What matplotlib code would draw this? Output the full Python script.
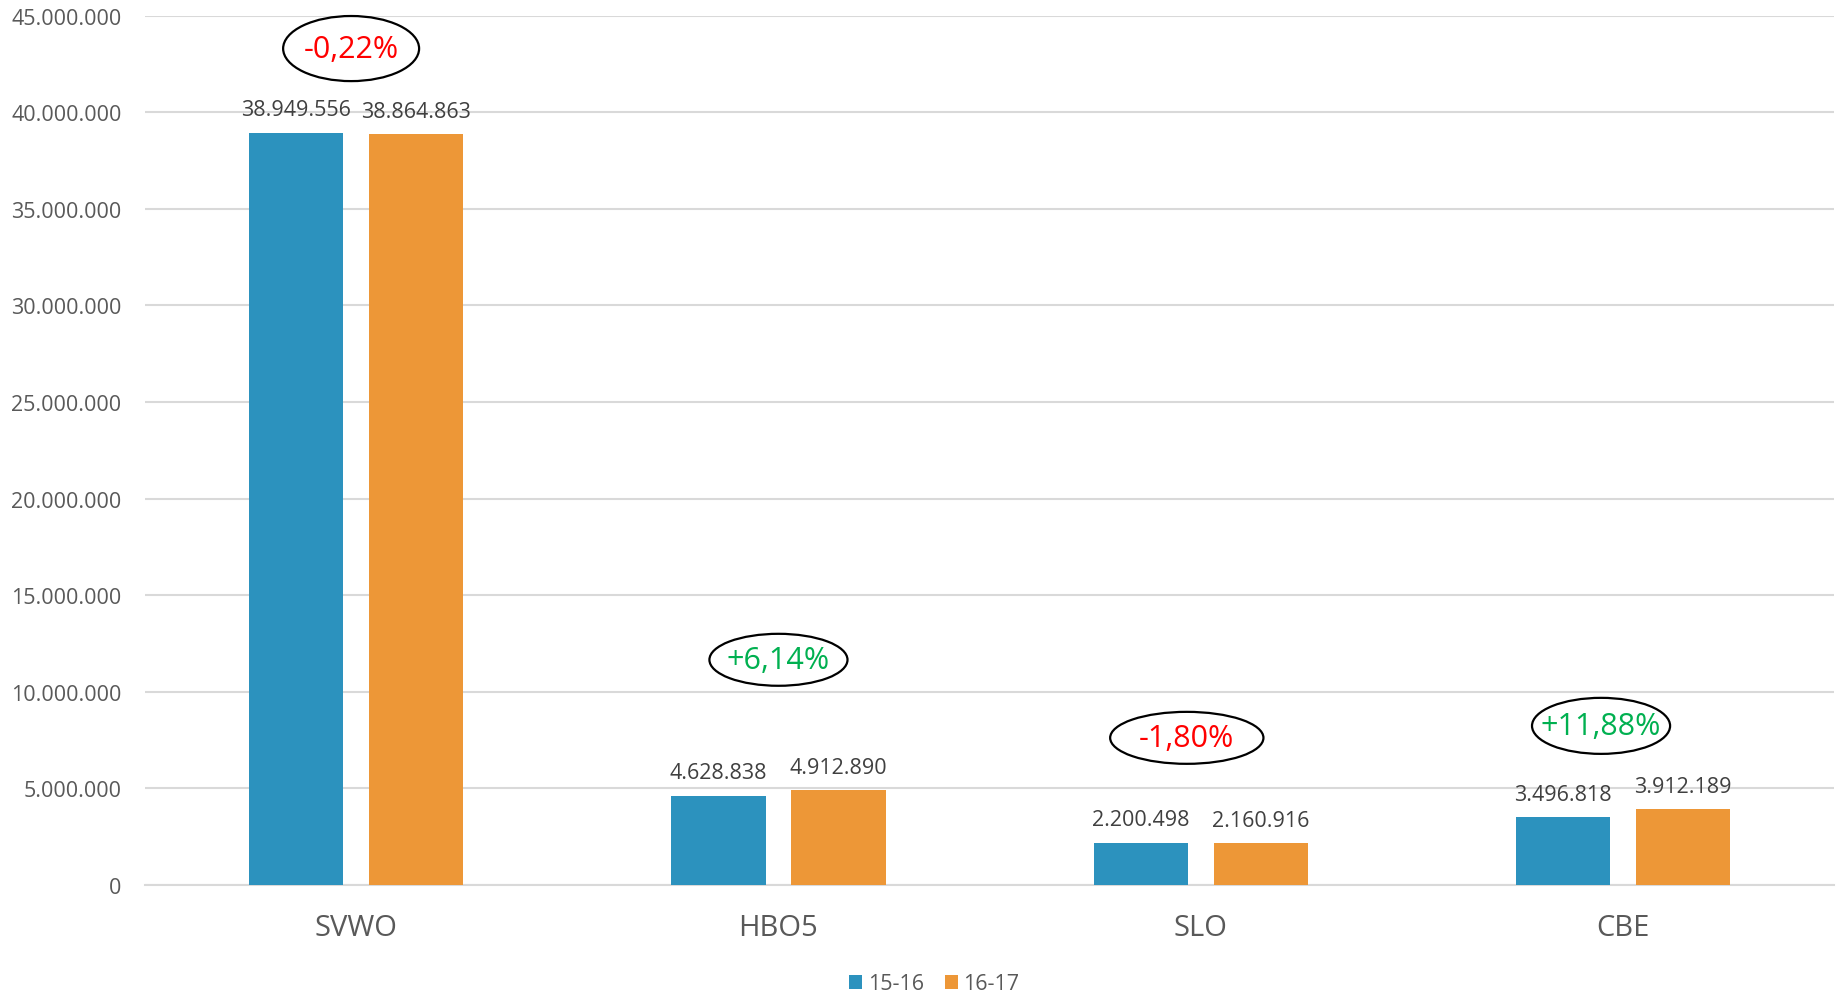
import matplotlib
matplotlib.use("Agg")
import matplotlib.pyplot as plt
from matplotlib.patches import Ellipse
import numpy as np

categories = ["SVWO", "HBO5", "SLO", "CBE"]
series_names = ["15-16", "16-17"]
values_1516 = [38949556, 4628838, 2200498, 3496818]
values_1617 = [38864863, 4912890, 2160916, 3912189]
pct_labels = ["-0,22%", "+6,14%", "-1,80%", "+11,88%"]
yticks = [0, 5000000, 10000000, 15000000, 20000000, 25000000, 30000000, 35000000, 40000000, 45000000]

# layout (annotation ellipse placement: x offset, y center, width, height in data units)
ell_x = [-0.012, 1.0, 1.967, 2.948]
ell_y = [43.3e6, 11.66e6, 7.62e6, 8.24e6]
ell_w = [0.322, 0.327, 0.363, 0.327]
ell_h = [3.37e6, 2.69e6, 2.69e6, 2.9e6]

plt.rcParams['font.family'] = ['Open Sans', 'DejaVu Sans']

def fmt(v):
    return f"{v:,}".replace(",", ".")

fig = plt.figure(figsize=(18.43, 9.95), dpi=100)
ax = fig.add_axes([0.0787, 0.1095, 0.9165, 0.8737])

x = np.arange(len(categories))
w = 0.223
off = 0.142
blue = "#2C92BE"
orange = "#ED9737"
b1 = ax.bar(x - off, values_1516, w, color=blue, label=series_names[0], zorder=3)
b2 = ax.bar(x + off, values_1617, w, color=orange, label=series_names[1], zorder=3)

for bars in (b1, b2):
    for r in bars:
        ax.annotate(fmt(int(r.get_height())), (r.get_x() + r.get_width() / 2, r.get_height()),
                    xytext=(0, 9), textcoords="offset points", ha="center", va="bottom",
                    fontsize=15.5, color="#404040")

for i, lab in enumerate(pct_labels):
    col = "#FF0000" if lab.startswith("-") else "#00B050"
    e = Ellipse((ell_x[i], ell_y[i]), ell_w[i], ell_h[i], facecolor="none",
                edgecolor="black", lw=1.6, clip_on=False, zorder=5)
    ax.add_patch(e)
    ax.text(ell_x[i], ell_y[i], lab, ha="center", va="center", fontsize=22, color=col, zorder=6)

ax.set_xlim(-0.5, 3.5)
ax.set_ylim(0, 45000000)
ax.set_yticks(yticks)
ax.set_yticklabels([fmt(t) for t in yticks])
ax.set_xticks(x)
ax.set_xticklabels(categories)
ax.tick_params(axis="y", length=0, pad=17, labelsize=15.5, labelcolor="#595959")
ax.tick_params(axis="x", length=0, pad=20, labelsize=21, labelcolor="#595959")
ax.grid(axis="y", color="#D9D9D9", lw=1.5, zorder=0)
for s in ["top", "right", "left"]:
    ax.spines[s].set_visible(False)
ax.spines["bottom"].set_color("#D9D9D9")
ax.spines["bottom"].set_linewidth(1.5)

fig.legend(handles=[b1, b2], labels=series_names, loc="center", bbox_to_anchor=(0.507, 1 - 985 / 995),
           ncol=2, frameon=False, fontsize=15.5, labelcolor="#595959", handlelength=0.6, handleheight=0.6,
           handletextpad=0.25, columnspacing=1.0)

fig.savefig("out.png", dpi=100)
